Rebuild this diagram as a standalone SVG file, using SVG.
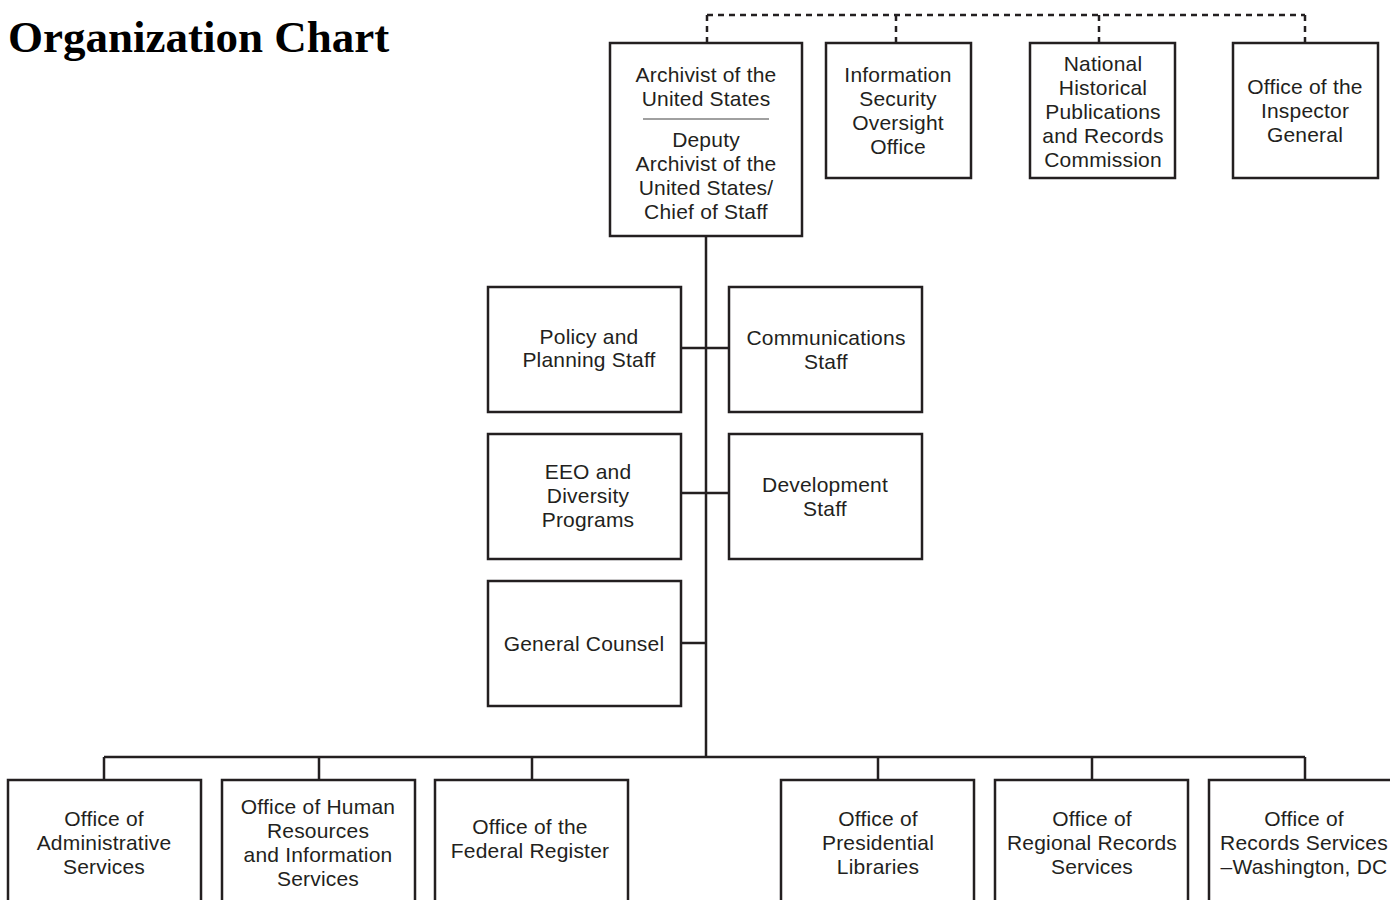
<svg xmlns="http://www.w3.org/2000/svg" width="1390" height="900" viewBox="0 0 1390 900">
<style>
.box{fill:#fff;stroke:#231f20;stroke-width:2.5}
.t{font-family:"Liberation Sans",Arial,sans-serif;font-size:21px;fill:#231f20;text-anchor:middle;letter-spacing:0.2px}
.ln{fill:none;stroke:#231f20;stroke-width:2.5}
.dash{fill:none;stroke:#231f20;stroke-width:2.5;stroke-dasharray:6 5}
.title{font-family:"Liberation Serif","Times New Roman",serif;font-size:45px;font-weight:bold;fill:#000}
</style>
<rect width="1390" height="900" fill="#fff"/>
<text class="title" x="8" y="52">Organization Chart</text>
<g id="connectors">
<path class="dash" d="M707,15 H1305 M707,15 V43 M896,15 V43 M1099,15 V43 M1305,15 V43"/>
<path class="ln" d="M706,236 V757 M681,348 H729 M681,493 H729 M681,643 H706 M104,757 H1305 M104,757 V780 M319,757 V780 M532,757 V780 M878,757 V780 M1092,757 V780 M1305,757 V780"/>
</g>
<g id="archivist">
<rect class="box" x="610" y="43" width="192" height="193"/>
<text class="t" x="706" y="82">Archivist of the</text>
<text class="t" x="706" y="106">United States</text>
<line x1="643" y1="119" x2="769" y2="119" stroke="#808080" stroke-width="1.5"/>
<text class="t" x="706" y="147">Deputy</text>
<text class="t" x="706" y="171">Archivist of the</text>
<text class="t" x="706" y="195">United States/</text>
<text class="t" x="706" y="219">Chief of Staff</text>
</g>
<g id="isoo">
<rect class="box" x="826" y="43" width="145" height="135"/>
<text class="t" x="898" y="82">Information</text>
<text class="t" x="898" y="106">Security</text>
<text class="t" x="898" y="130">Oversight</text>
<text class="t" x="898" y="154">Office</text>
</g>
<g id="nhprc">
<rect class="box" x="1030" y="43" width="145" height="135"/>
<text class="t" x="1103" y="71">National</text>
<text class="t" x="1103" y="95">Historical</text>
<text class="t" x="1103" y="119">Publications</text>
<text class="t" x="1103" y="143">and Records</text>
<text class="t" x="1103" y="167">Commission</text>
</g>
<g id="oig">
<rect class="box" x="1233" y="43" width="145" height="135"/>
<text class="t" x="1305" y="94">Office of the</text>
<text class="t" x="1305" y="118">Inspector</text>
<text class="t" x="1305" y="142">General</text>
</g>
<g id="policy">
<rect class="box" x="488" y="287" width="193" height="125"/>
<text class="t" x="589" y="344">Policy and</text>
<text class="t" x="589" y="367">Planning Staff</text>
</g>
<g id="communications">
<rect class="box" x="729" y="287" width="193" height="125"/>
<text class="t" x="826" y="345">Communications</text>
<text class="t" x="826" y="369">Staff</text>
</g>
<g id="eeo">
<rect class="box" x="488" y="434" width="193" height="125"/>
<text class="t" x="588" y="479">EEO and</text>
<text class="t" x="588" y="503">Diversity</text>
<text class="t" x="588" y="527">Programs</text>
</g>
<g id="development">
<rect class="box" x="729" y="434" width="193" height="125"/>
<text class="t" x="825" y="492">Development</text>
<text class="t" x="825" y="516">Staff</text>
</g>
<g id="counsel">
<rect class="box" x="488" y="581" width="193" height="125"/>
<text class="t" x="584" y="651">General Counsel</text>
</g>
<g id="admin">
<rect class="box" x="8" y="780" width="193" height="140"/>
<text class="t" x="104" y="826">Office of</text>
<text class="t" x="104" y="850">Administrative</text>
<text class="t" x="104" y="874">Services</text>
</g>
<g id="hr">
<rect class="box" x="222" y="780" width="193" height="140"/>
<text class="t" x="318" y="814">Office of Human</text>
<text class="t" x="318" y="838">Resources</text>
<text class="t" x="318" y="862">and Information</text>
<text class="t" x="318" y="886">Services</text>
</g>
<g id="fedreg">
<rect class="box" x="435" y="780" width="193" height="140"/>
<text class="t" x="530" y="834">Office of the</text>
<text class="t" x="530" y="858">Federal Register</text>
</g>
<g id="presidential">
<rect class="box" x="781" y="780" width="193" height="140"/>
<text class="t" x="878" y="826">Office of</text>
<text class="t" x="878" y="850">Presidential</text>
<text class="t" x="878" y="874">Libraries</text>
</g>
<g id="regional">
<rect class="box" x="995" y="780" width="193" height="140"/>
<text class="t" x="1092" y="826">Office of</text>
<text class="t" x="1092" y="850">Regional Records</text>
<text class="t" x="1092" y="874">Services</text>
</g>
<g id="washington">
<rect class="box" x="1209" y="780" width="193" height="140"/>
<text class="t" x="1304" y="826">Office of</text>
<text class="t" x="1304" y="850">Records Services</text>
<text class="t" x="1304" y="874">–Washington, DC</text>
</g>
</svg>
